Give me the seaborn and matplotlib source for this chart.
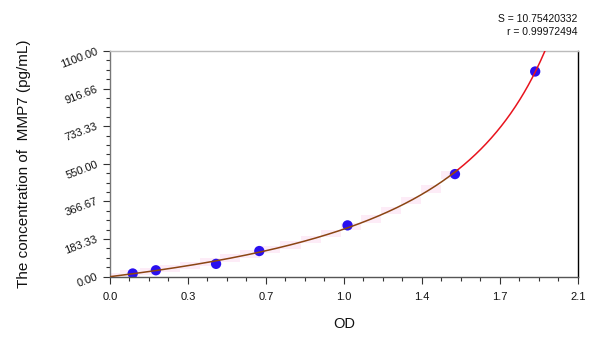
import numpy as np
import pandas as pd
import matplotlib
matplotlib.use("Agg")
import matplotlib.pyplot as plt
import seaborn as sns
from matplotlib.ticker import MultipleLocator, FixedLocator, FixedFormatter

od = [0.102, 0.206, 0.476, 0.670, 1.066, 1.548, 1.908]
conc = [15.6, 31.25, 62.5, 125.0, 250.0, 500.0, 1000.0]
x_ticks = [0.0, 0.35, 0.7, 1.05, 1.4, 1.75, 2.1]
x_tick_labels = ["0.0", "0.3", "0.7", "1.0", "1.4", "1.7", "2.1"]
y_ticks = [0.0, 183.33, 366.67, 550.0, 733.33, 916.66, 1100.0]
y_tick_labels = ["0.00", "183.33", "366.67", "550.00", "733.33", "916.66", "1100.00"]
stat_s = "S = 10.75420332"
stat_r = "r = 0.99972494"

sns.set_style("white")
plt.rcParams['font.family'] = ['Liberation Sans', 'DejaVu Sans']

fig = plt.figure(figsize=(6.0, 3.37), dpi=100)
ax = fig.add_axes([0.1833, 0.179, 0.78, 0.6697])

# rational fit y = (a x + b x^2) / (1 + c x), linearised least squares
xa = np.asarray(od)
ya = np.asarray(conc)
A = np.column_stack([xa, xa ** 2, -xa * ya])
(a, b, c), *_ = np.linalg.lstsq(A, ya, rcond=None)
xs = np.linspace(0.0, 2.1, 800)
den = 1 + c * xs
ys = (a * xs + b * xs ** 2) / den
ok = (den > 0.02) & (ys < 1300)
curve = pd.DataFrame({"OD": xs[ok], "conc": ys[ok]})
low = curve[curve["OD"] <= 1.56]
high = curve[curve["OD"] >= 1.53]

# faint pink confidence blocks
xb = np.arange(0.0, 1.60, 0.09)
yb = (a * xb + b * xb ** 2) / (1 + c * xb)
ax.fill_between(xb, yb - 18, yb + 18, step="mid", color="#fdecf7", lw=0, zorder=1)

pts = pd.DataFrame({"OD": od, "conc": conc})
sns.scatterplot(data=pts, x="OD", y="conc", ax=ax, color="#2a10f0", s=55,
                edgecolor="none", zorder=2)
sns.lineplot(data=high, x="OD", y="conc", ax=ax, color="#e8141e", lw=1.1, zorder=3)
sns.lineplot(data=low, x="OD", y="conc", ax=ax, color="#8b4513", lw=1.1, zorder=4)

ax.set_xlim(0, 2.1)
ax.set_ylim(0, 1100)
ax.xaxis.set_major_locator(FixedLocator(x_ticks))
ax.xaxis.set_major_formatter(FixedFormatter(x_tick_labels))
ax.xaxis.set_minor_locator(MultipleLocator(0.0875))
ax.yaxis.set_major_locator(FixedLocator(y_ticks))
ax.yaxis.set_major_formatter(FixedFormatter(y_tick_labels))
ax.yaxis.set_minor_locator(MultipleLocator(1100 / 24))

ax.tick_params(axis="both", which="major", direction="out", length=5, width=0.8,
               color="#333333", labelsize=8, labelcolor="#111111", pad=2,
               bottom=True, left=True)
ax.tick_params(axis="both", which="minor", direction="out", length=3, width=0.8,
               color="#333333", bottom=True, left=True)
for lab in ax.get_yticklabels():
    lab.set_rotation(21)
    lab.set_rotation_mode("anchor")
    lab.set_ha("right")
    lab.set_va("center")
ax.tick_params(axis="y", pad=4)
ax.tick_params(axis="x", pad=6)

for side, col in [("left", "#777777"), ("bottom", "#555555"), ("top", "#bbbbbb"), ("right", "#000000")]:
    ax.spines[side].set_visible(True)
    ax.spines[side].set_color(col)
    ax.spines[side].set_linewidth(1.0)

ax.set_xlabel("OD", fontsize=10.5, labelpad=11, color="#111111")
ax.set_ylabel("The concentration of  MMP7 (pg/mL)", fontsize=11, labelpad=20, color="#111111")

fig.text(0.963, 0.943, stat_s, ha="right", va="center", fontsize=7.5, color="#111111")
fig.text(0.963, 0.905, stat_r, ha="right", va="center", fontsize=7.5, color="#111111")

fig.savefig("out.png", dpi=100)
